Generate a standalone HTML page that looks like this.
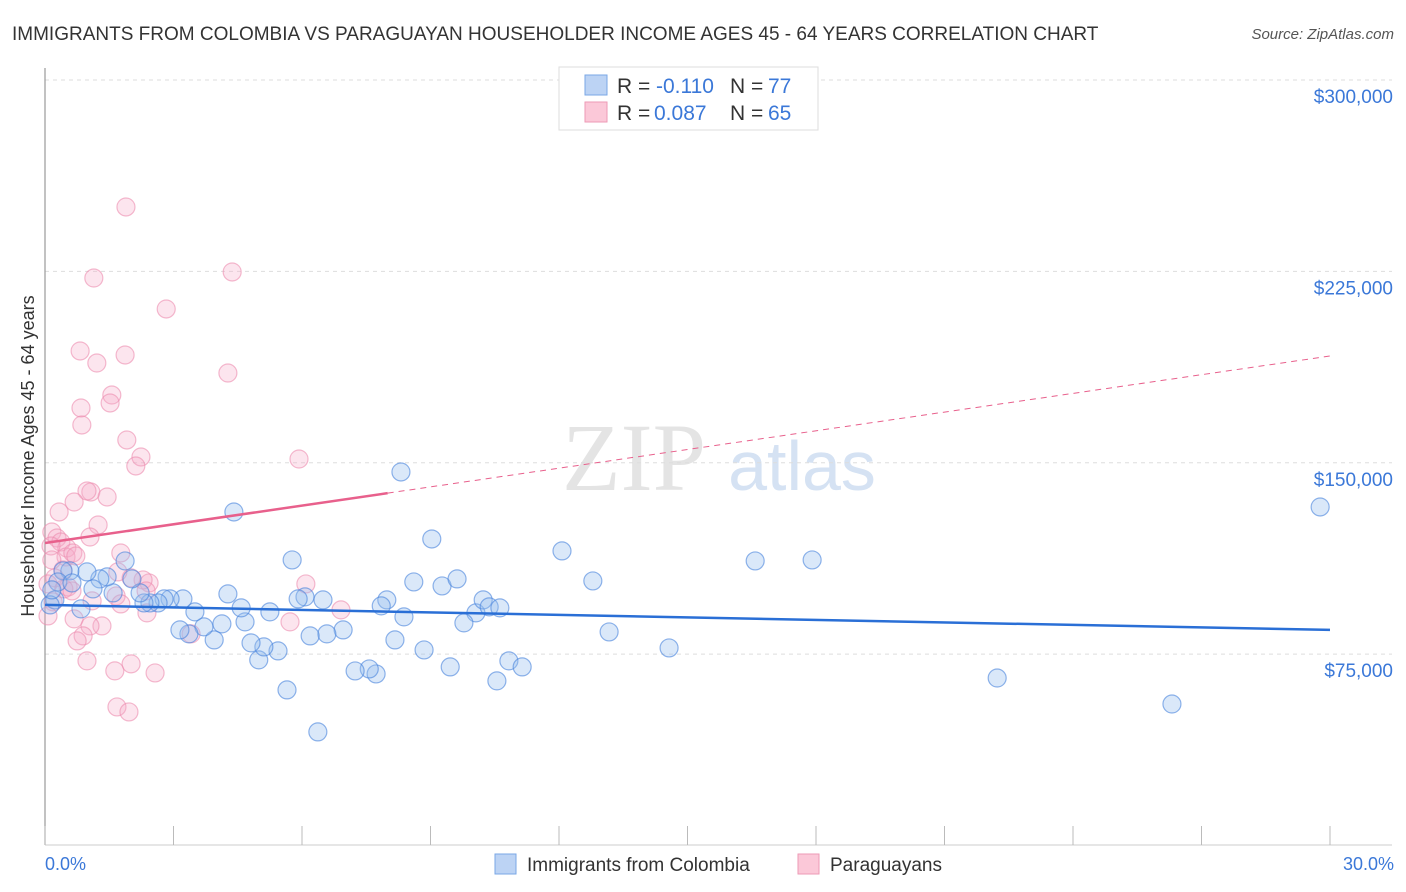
<!DOCTYPE html>
<html><head><meta charset="utf-8"><style>
body{margin:0;background:#fff;font-family:"Liberation Sans",sans-serif;}
svg{display:block}
</style></head><body>
<svg id="chart" width="1406" height="892" xmlns="http://www.w3.org/2000/svg">
<text x="12" y="40" font-size="19" fill="#333">IMMIGRANTS FROM COLOMBIA VS PARAGUAYAN HOUSEHOLDER INCOME AGES 45 - 64 YEARS CORRELATION CHART</text>
<text x="1394" y="39" font-size="15" fill="#555" font-style="italic" text-anchor="end">Source: ZipAtlas.com</text>
<text x="634" y="490" font-size="96" fill="#e4e4e4" font-family="Liberation Serif,serif" text-anchor="middle">ZIP</text>
<text x="802" y="490" font-size="70" fill="#d5e2f3" text-anchor="middle">atlas</text>
<g id="grid"></g>
<line x1="45" y1="68" x2="45" y2="845" stroke="#999" stroke-width="1.2"/>
<line x1="45" y1="845" x2="1392" y2="845" stroke="#ccc" stroke-width="1"/>
<g id="xticks"></g>
<g id="pts"></g>
<g id="trends"></g>
<text transform="translate(34,456) rotate(-90)" font-size="18" fill="#333" text-anchor="middle">Householder Income Ages 45 - 64 years</text>
<text x="45" y="870" font-size="18" fill="#3b78d8">0.0%</text>
<text x="1394" y="870" font-size="18" fill="#3b78d8" text-anchor="end">30.0%</text>
<g>
<rect x="559" y="67" width="259" height="63" fill="#fff" stroke="#ddd"/>
<rect x="585" y="75" width="22" height="20" fill="#bcd3f4" stroke="#7aa7e6"/>
<rect x="585" y="102" width="22" height="20" fill="#fbc8d8" stroke="#ee9ab6"/>
<text x="617" y="93" font-size="21" fill="#333">R = <tspan x="656" fill="#3b78d8">-0.110</tspan></text>
<text x="730" y="93" font-size="21" fill="#333">N = <tspan x="768" fill="#3b78d8">77</tspan></text>
<text x="617" y="120" font-size="21" fill="#333">R = <tspan x="654" fill="#3b78d8">0.087</tspan></text>
<text x="730" y="120" font-size="21" fill="#333">N = <tspan x="768" fill="#3b78d8">65</tspan></text>
</g>
<g>
<rect x="495" y="854" width="21" height="20" fill="#bcd3f4" stroke="#7aa7e6"/>
<text x="527" y="871" font-size="19" fill="#333">Immigrants from Colombia</text>
<rect x="798" y="854" width="21" height="20" fill="#fbc8d8" stroke="#ee9ab6"/>
<text x="830" y="871" font-size="19" fill="#333">Paraguayans</text>
</g>
</svg>
<script>
const yTicks=[75000,150000,225000,300000];
const yTickLabels=["$75,000","$150,000","$225,000","$300,000"];
const xTicks=[0,3,6,9,12,15,18,21,24,27,30];
const colX=[26.31,22.23,29.77,16.58,17.91,12.07,12.79,13.17,14.57,8.31,9.03,8.61,9.27,9.62,10.06,10.23,10.37,10.62,9.78,10.83,11.14,10.55,9.46,8.85,8.17,7.98,7.85,8.38,7.73,7.57,7.24,5.77,6.07,5.91,6.49,6.96,6.58,6.19,6.37,5.65,5.44,4.99,5.11,4.81,5.25,4.67,4.41,4.27,4.58,4.13,3.95,3.71,3.50,3.36,3.15,3.22,2.92,2.78,2.64,2.45,2.31,2.22,2.03,1.87,1.59,1.45,1.28,1.12,0.98,0.84,0.58,0.42,0.23,0.12,0.30,0.63,0.16];
const colY=[55450,65640,132660,111530,111920,115450,103690,83700,77430,146380,120130,103300,101730,104480,91160,96250,93510,93120,87240,72350,69990,64510,69990,76650,80570,96250,93900,89590,67240,69200,68410,111920,97430,96640,96250,84490,82930,82140,44520,60980,76260,72740,77830,79400,91550,87630,130700,98600,93120,86850,80570,85670,91550,82930,84490,96640,96640,96640,95070,95070,95070,98990,104480,111530,98990,105270,104480,100560,107220,92730,107620,107620,96250,94290,103300,102900,100170];
const parX=[1.89,1.14,4.37,2.83,0.82,1.87,1.21,4.27,1.56,1.52,0.84,0.86,1.91,2.24,2.12,5.93,1.07,0.98,1.45,0.68,0.33,1.24,0.16,1.05,0.28,0.37,0.51,0.14,0.49,1.77,0.65,0.42,0.23,0.07,0.54,0.44,0.63,2.43,2.29,2.01,6.09,2.36,1.66,0.19,1.10,1.77,2.38,6.91,0.68,0.07,1.33,1.05,5.72,0.89,3.41,0.75,0.98,2.01,1.63,2.57,1.68,1.96,1.70,0.72,0.16];
const parY=[250230,222400,224760,210260,193800,192230,189090,185170,176550,173420,171460,164800,158920,152260,148730,151470,138540,138930,136580,134620,130700,125610,122860,120900,120510,118940,116590,117380,113070,114640,114640,107980,104850,102500,101330,100560,99770,102900,104080,104870,102500,99770,97800,95470,95860,94680,91160,92340,88810,89980,86060,86060,87630,82140,82930,80180,72350,71180,68430,67630,54300,52340,107220,113460,111920];
const colTrend=[94290,84490];
const parTrend=[118550,191840];
const parSolidEnd=8.0;

const NS="http://www.w3.org/2000/svg";
const X=v=>45+v*(1285/30);
const Y=v=>845.5-v*(765.5/300000);
function mk(tag,attrs,parent){const e=document.createElementNS(NS,tag);for(const k in attrs)e.setAttribute(k,attrs[k]);parent.appendChild(e);return e;}
const grid=document.getElementById('grid');
yTicks.forEach((t,i)=>{
  const l=mk('line',{x1:45,x2:1392,y1:Y(t),y2:Y(t),stroke:'#ddd','stroke-dasharray':'4,4'},grid);
  
  
  const tx=mk('text',{x:1393,y:Y(t)+23,'font-size':19,fill:'#3b78d8','text-anchor':'end'},grid);
  tx.textContent=yTickLabels[i];
  
  
});
const xt=document.getElementById('xticks');
xTicks.forEach(t=>{
  const l=mk('line',{x1:X(t),x2:X(t),y1:826,y2:845,stroke:'#bbb'},xt);
  
  
});
const pts=document.getElementById('pts');
parX.forEach((x,i)=>{
  const c=mk('circle',{cx:X(x),cy:Y(parY[i]),r:9,fill:'rgba(246,170,198,0.3)',stroke:'rgba(236,140,175,0.6)','stroke-width':1.2},pts);
  
  
});
colX.forEach((x,i)=>{
  const c=mk('circle',{cx:X(x),cy:Y(colY[i]),r:9,fill:'rgba(150,188,238,0.35)',stroke:'rgba(70,130,220,0.6)','stroke-width':1.2},pts);
  
  
});
const tr=document.getElementById('trends');
const cl=mk('line',{x1:X(0),y1:Y(colTrend[0]),x2:X(30),y2:Y(colTrend[1]),stroke:'#2a6fd6','stroke-width':2.5},tr);


const pm=parTrend[0]+(parTrend[1]-parTrend[0])*parSolidEnd/30;
const ps=mk('line',{x1:X(0),y1:Y(parTrend[0]),x2:X(parSolidEnd),y2:Y(pm),stroke:'#e8608c','stroke-width':2.5},tr);


const pd=mk('line',{x1:X(parSolidEnd),y1:Y(pm),x2:X(30),y2:Y(parTrend[1]),stroke:'#e8608c','stroke-width':1,'stroke-dasharray':'6,5'},tr);


const topLine=mk('line',{x1:45,x2:1392,y1:Y(300000),y2:Y(300000),stroke:'#ddd','stroke-dasharray':'4,4'},grid);


</script>
</body></html>
